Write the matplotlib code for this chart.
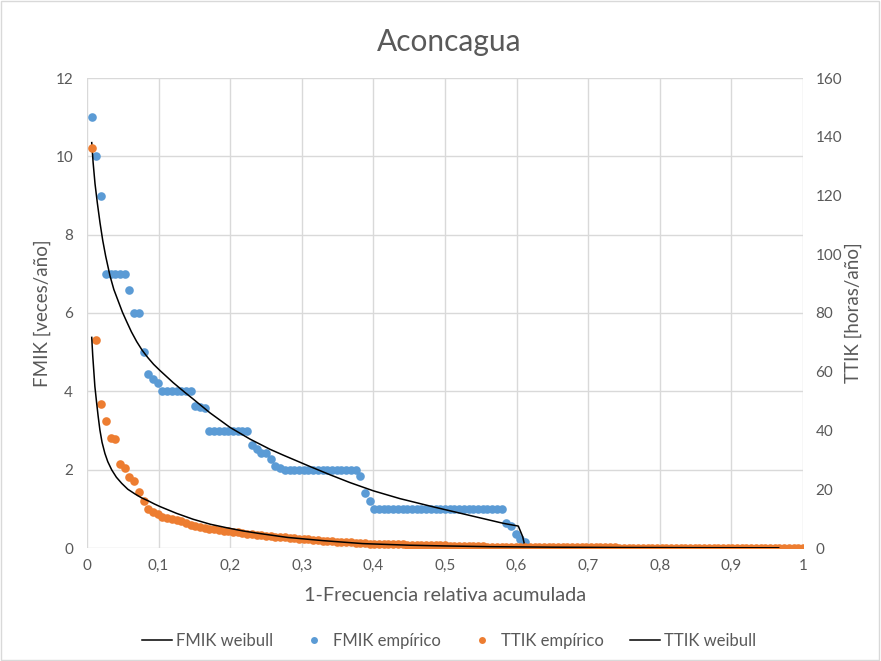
import matplotlib
matplotlib.use("Agg")
import matplotlib.pyplot as plt
from matplotlib.lines import Line2D
from matplotlib.patches import Rectangle

plt.rcParams['font.family'] = ['Lato', 'DejaVu Sans']

# ---- data -------------------------------------------------------------
n_total = 152  # number of ranked records (x = rank / n_total)

# FMIK empírico [veces/año], rank 1..93 (remaining ranks are zero)
fmik_emp = [11, 10, 9,
            7, 7, 7, 7, 7,
            6.6, 6.0, 6.0, 5.0, 4.45, 4.31, 4.22,
            4, 4, 4, 4, 4, 4, 4,
            3.63, 3.6, 3.57,
            3, 3, 3, 3, 3, 3, 3, 3, 3,
            2.63, 2.52, 2.42, 2.42, 2.28, 2.09, 2.03,
            2, 2, 2, 2, 2, 2, 2, 2, 2, 2, 2, 2, 2, 2, 2, 2,
            1.85, 1.41, 1.2,
            1, 1, 1, 1, 1, 1, 1, 1, 1, 1, 1, 1, 1, 1,
            1, 1, 1, 1, 1, 1, 1, 1, 1, 1, 1, 1, 1, 1,
            0.65, 0.55, 0.35, 0.22, 0.16]

# TTIK empírico [horas/año], rank 1..152
ttik_emp = [136.3, 70.8, 49.0, 43.3, 37.3, 37.0, 28.6, 27.1, 24.3, 22.8,
            19.2, 16.1, 13.2, 12.4, 11.5, 10.7, 10.3, 10.0, 9.6, 9.3,
            8.6, 7.9, 7.5, 7.2, 6.9, 6.6, 6.4, 6.1, 5.9, 5.7,
            5.5, 5.3, 5.1, 4.9, 4.7, 4.5, 4.4, 4.2, 4.1, 3.9,
            3.7, 3.6, 3.5, 3.3, 3.2, 3.0, 2.9, 2.8, 2.6, 2.5,
            2.4, 2.3, 2.2, 2.1, 2.0, 1.9, 1.8, 1.7, 1.6, 1.5,
            1.45, 1.42, 1.38, 1.34, 1.3, 1.26, 1.22, 1.18, 1.14, 1.1,
            1.06, 1.02, 0.98, 0.94, 0.9, 0.86, 0.82, 0.78, 0.74, 0.7,
            0.66, 0.62, 0.58, 0.54, 0.5, 0.47, 0.45, 0.43, 0.41, 0.39,
            0.37, 0.35, 0.34, 0.33, 0.32, 0.31, 0.3, 0.29, 0.28, 0.27,
            0.26, 0.25, 0.24, 0.23, 0.22, 0.21, 0.2, 0.2, 0.19, 0.19,
            0.18, 0.18, 0.17, 0.17, 0.16, 0.16, 0.15, 0.15, 0.14, 0.14,
            0.13, 0.13, 0.12, 0.12, 0.12, 0.11, 0.11, 0.11, 0.1, 0.1,
            0.1, 0.09, 0.09, 0.09, 0.08, 0.08, 0.08, 0.07, 0.07, 0.07,
            0.06, 0.06, 0.06, 0.06, 0.05, 0.05, 0.05, 0.05, 0.05, 0.05,
            0.05, 0.05]

# FMIK weibull curve
fmik_wb_x = [0.0066, 0.0085, 0.0112, 0.0145, 0.0182, 0.022, 0.0261, 0.0321,
             0.0375, 0.0437, 0.0495, 0.0554, 0.062, 0.0694, 0.077, 0.085,
             0.093, 0.102, 0.1205, 0.1369, 0.1485, 0.1718, 0.1997, 0.2277,
             0.2556, 0.2742, 0.3115, 0.3394, 0.3673, 0.3999, 0.4372, 0.4837,
             0.5256, 0.5814, 0.6024, 0.6085, 0.6117]
fmik_wb_y = [10.35, 9.85, 9.3, 8.8, 8.3, 7.85, 7.45, 6.95,
             6.6, 6.3, 6.02, 5.78, 5.52, 5.27, 5.05, 4.86,
             4.69, 4.53, 4.22, 3.97, 3.8, 3.45, 3.08, 2.78,
             2.52, 2.37, 2.08, 1.87, 1.67, 1.46, 1.26, 1.05,
             0.87, 0.63, 0.56, 0.29, 0.03]

# TTIK weibull curve
ttik_wb_x = [0.0066, 0.008, 0.0094, 0.011, 0.0135, 0.0155, 0.018, 0.021,
             0.025, 0.029, 0.0345, 0.041, 0.0485, 0.057, 0.067, 0.076,
             0.086, 0.094, 0.102, 0.125, 0.148, 0.172, 0.195, 0.218,
             0.242, 0.28, 0.33, 0.385, 0.45, 0.5, 0.563, 0.65, 0.75,
             0.85, 0.966]
ttik_wb_y = [71.7, 65.5, 60.6, 55.0, 49.3, 45.0, 40.2, 36.0,
             32.2, 29.4, 26.6, 24.1, 22.0, 20.0, 18.4, 17.1,
             16.0, 15.0, 14.1, 11.8, 9.8, 8.1, 6.9, 5.8,
             4.9, 3.6, 2.5, 1.5, 0.95, 0.7, 0.45, 0.28, 0.17,
             0.11, 0.07]

x_ticks = [0, 0.1, 0.2, 0.3, 0.4, 0.5, 0.6, 0.7, 0.8, 0.9, 1.0]
x_tick_labels = ['0', '0,1', '0,2', '0,3', '0,4', '0,5', '0,6', '0,7', '0,8', '0,9', '1']
y_left_ticks = [0, 2, 4, 6, 8, 10, 12]
y_right_ticks = [0, 20, 40, 60, 80, 100, 120, 140, 160]

# ---- styling ----------------------------------------------------------
BLUE = '#5B9BD5'
ORANGE = '#ED7D31'
TXT = '#595959'
GRID = '#D9D9D9'

fig = plt.figure(figsize=(8.81, 6.61), dpi=100)
fig.patches.append(Rectangle((0.001, 0.002), 0.997, 0.996, transform=fig.transFigure,
                             fill=False, edgecolor='#D9D9D9', linewidth=1))

ax = fig.add_axes([87 / 881, 1 - 548 / 661, 716 / 881, 470 / 661])
ax2 = ax.twinx()

fmik_x = [(i + 1) / n_total for i in range(len(fmik_emp))]
ttik_x = [(i + 1) / n_total for i in range(len(ttik_emp))]

ax.plot(fmik_x, fmik_emp, linestyle='none', marker='o', markersize=6.2,
        color=BLUE, markeredgewidth=0, zorder=2)
ax.plot(fmik_wb_x, fmik_wb_y, color='black', linewidth=1.1, zorder=3)

ax2.plot(ttik_x, ttik_emp, linestyle='none', marker='o', markersize=6.2,
         color=ORANGE, markeredgewidth=0, zorder=2)
ax2.plot(ttik_wb_x, ttik_wb_y, color='black', linewidth=1.1, zorder=3)

ax.set_xlim(0, 1)
ax.set_ylim(0, 12)
ax2.set_ylim(0, 160)
ax.set_xticks(x_ticks)
ax.set_xticklabels(x_tick_labels)
ax.set_yticks(y_left_ticks)
ax2.set_yticks(y_right_ticks)

ax.grid(True, color=GRID, linewidth=1)
ax.set_axisbelow(True)
for a in (ax, ax2):
    for s in a.spines.values():
        s.set_visible(False)
    a.tick_params(length=0, labelsize=11, labelcolor=TXT)
ax.tick_params(axis='x', pad=8)
ax.tick_params(axis='y', pad=10)
ax2.tick_params(axis='y', pad=9)

ax.set_xlabel('1-Frecuencia relativa acumulada', fontsize=14.3, color=TXT, labelpad=10)
ax.set_ylabel('FMIK [veces/año]', fontsize=13.5, color=TXT, labelpad=3)
ax2.set_ylabel('TTIK [horas/año]', fontsize=13.5, color=TXT, labelpad=2)

fig.text(449 / 881, 1 - 42 / 661, 'Aconcagua', ha='center', va='center',
         fontsize=21.5, color=TXT)

handles = [
    Line2D([], [], color='black', linewidth=1.1),
    Line2D([], [], linestyle='none', marker='o', color=BLUE, markersize=5, markeredgewidth=0),
    Line2D([], [], linestyle='none', marker='o', color=ORANGE, markersize=5, markeredgewidth=0),
    Line2D([], [], color='black', linewidth=1.1),
]
labels = ['FMIK weibull', 'FMIK empírico', 'TTIK empírico', 'TTIK weibull']
leg = fig.legend(handles, labels, loc='center', bbox_to_anchor=(449 / 881, 1 - 641 / 661),
                 ncol=4, frameon=False, fontsize=12, handlelength=1.8, handletextpad=0.2,
                 columnspacing=1.6)
for t in leg.get_texts():
    t.set_color(TXT)

fig.savefig('out.png', dpi=100)
